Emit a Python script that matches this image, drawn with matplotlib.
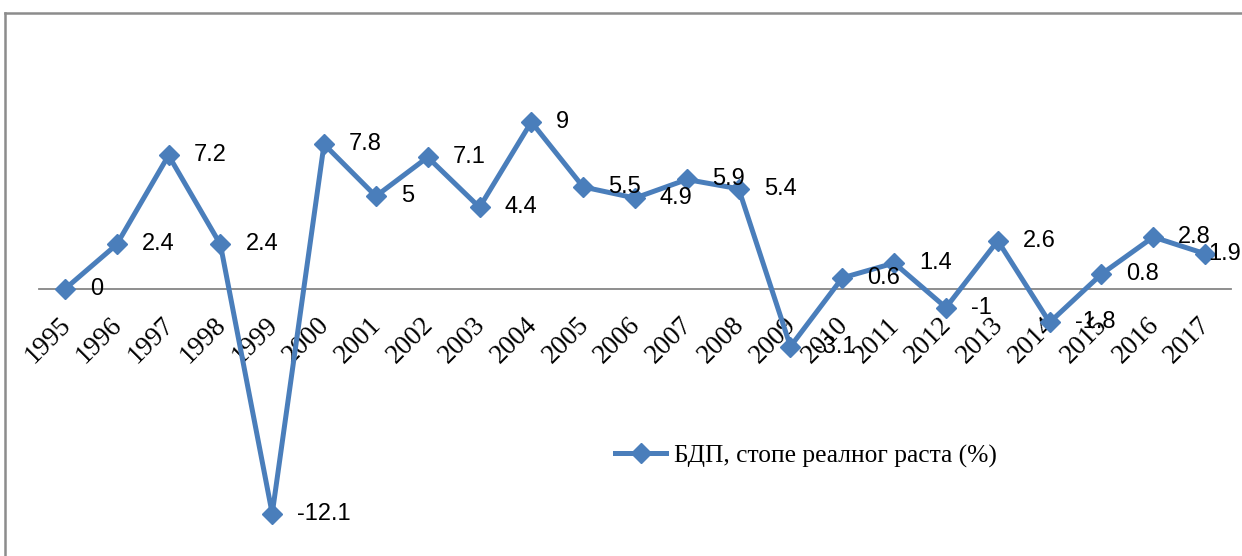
import matplotlib
matplotlib.use("Agg")
import matplotlib.pyplot as plt
from matplotlib.lines import Line2D
from matplotlib.transforms import ScaledTranslation

years = [str(y) for y in range(1995, 2018)]
growth = [0, 2.4, 7.2, 2.4, -12.1, 7.8, 5, 7.1, 4.4, 9, 5.5, 4.9, 5.9, 5.4,
          -3.1, 0.6, 1.4, -1, 2.6, -1.8, 0.8, 2.8, 1.9]
series_name = "БДП, стопе реалног раста (%)"

W, H = 1242, 556
fig = plt.figure(figsize=(W / 100, H / 100), dpi=100)

# plot area: x from 39 to 1231 px, y from 50 px (top) to bottom of image
ax = fig.add_axes([39 / W, 0, 1192 / W, (H - 50) / H])
ax.set_xlim(-0.5, len(years) - 0.5)
ax.set_ylim(-(H - 289) / 18.56, (289 - 50) / 18.56)

color = "#4A7EBB"
x = list(range(len(years)))
ax.plot(x, growth, color=color, lw=3.6, marker="D", markersize=10,
        label=series_name, zorder=3)

# data labels to the right of points (last one pulled in to fit the frame)
for xi, v in zip(x, growth):
    dx = 2 if xi == len(x) - 1 else 18
    ax.annotate("%g" % v, (xi, v), xytext=(dx, 0), textcoords="offset points",
                ha="left", va="center", fontsize=17,
                family="Liberation Sans", color="black", zorder=4)

for s in ["top", "right", "left"]:
    ax.spines[s].set_visible(False)
ax.spines["bottom"].set_position(("data", 0))
ax.spines["bottom"].set_color("#868686")
ax.spines["bottom"].set_linewidth(1.3)
ax.set_yticks([])
ax.set_xticks(x)
ax.set_xticklabels(years, rotation=45, ha="right", rotation_mode="anchor",
                   fontsize=19.5, family="Liberation Serif")
ax.tick_params(axis="x", length=0, pad=17)
shift = ScaledTranslation(-7 / 100, 0, fig.dpi_scale_trans)
for t in ax.get_xticklabels():
    t.set_transform(t.get_transform() + shift)
ax.patch.set_alpha(0)

leg = ax.legend(loc="upper left", bbox_to_anchor=(566 / 1192, 1 - (434 - 50) / (H - 50)),
                frameon=False, prop={"family": "Liberation Serif", "size": 18.4},
                handlelength=2.0, handletextpad=0.3, borderaxespad=0)

# outer chart border
fig.add_artist(Line2D([5 / W, 5 / W], [0, 1 - 13 / H], color="#8c8c8c", lw=1.8))
fig.add_artist(Line2D([5 / W, 1], [1 - 13 / H, 1 - 13 / H], color="#8c8c8c", lw=1.8))

fig.savefig("out.png", dpi=100, facecolor="white")
